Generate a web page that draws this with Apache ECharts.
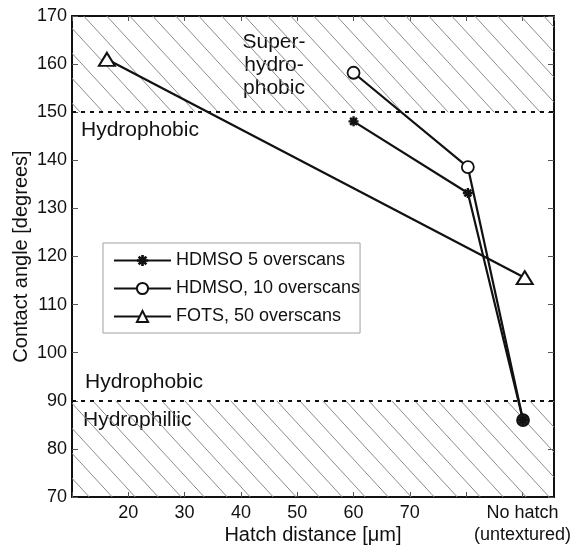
<!DOCTYPE html>
<html>
<head>
    <meta charset="utf-8" />
    <title>Contact angle</title>
    <script src="https://cdn.jsdelivr.net/npm/echarts@6/dist/echarts.min.js"></script>
    <style type="text/css">
        body { margin: 0; padding: 0; background: #fff; }
        #main { width: 587px; height: 548px; }
    </style>
</head>
<body>
    <div id="main"></div>
    <script type="text/javascript">
        // data
        var hdmso5X = [60, 80.3, 90.1];
        var hdmso5Y = [148.1, 133.2, 86];
        var hdmso10X = [60, 80.3, 90.1];
        var hdmso10Y = [158.2, 138.6, 86];
        var fotsX = [16.2, 90.4];
        var fotsY = [161, 115.6];
        var seriesNames = ['HDMSO 5 overscans', 'HDMSO, 10 overscans', 'FOTS, 50 overscans'];
        var xTickLabels = { 20: '20', 30: '30', 40: '40', 50: '50', 60: '60', 70: '70', 90: 'No hatch\n(untextured)' };
        var hatchBands = [[150, 170], [70, 90]];
        var thresholds = [150, 90];

        var FONT = 'Liberation Sans';

        // hatch tile, "\" lines
        function makeHatch() {
            var w = 23, h = 25;
            var c = document.createElement('canvas');
            c.width = w; c.height = h;
            var ctx = c.getContext('2d');
            ctx.strokeStyle = '#8c8c8c';
            ctx.lineWidth = 1;
            ctx.beginPath();
            ctx.moveTo(-2, -2 * h / w);
            ctx.lineTo(w + 2, h + 2 * h / w);
            ctx.stroke();
            return c;
        }

        function pairs(xs, ys) {
            return xs.map(function (x, i) { return [x, ys[i]]; });
        }

        var starPath = 'path://M-1.2,-5L1.2,-5L1.2,5L-1.2,5Z' +
            'M-5,-1.2L5,-1.2L5,1.2L-5,1.2Z' +
            'M-4.3,-2.6L-2.6,-4.3L4.3,2.6L2.6,4.3Z' +
            'M2.6,-4.3L4.3,-2.6L-2.6,4.3L-4.3,2.6Z';

        var hdmso10Data = pairs(hdmso10X, hdmso10Y).map(function (p, i) {
            if (i === hdmso10X.length - 1) {
                return { value: p, itemStyle: { color: '#333' } };
            }
            return p;
        });

        var lineStyle = { color: '#111', width: 2.2 };
        var hatchPattern = { image: makeHatch(), repeat: 'repeat' };

        var myChart = echarts.init(document.getElementById('main'), null, { renderer: 'canvas' });

        var option = {
            animation: false,
            backgroundColor: '#fff',
            grid: { left: 72, top: 16, width: 482, height: 481, containLabel: false, outerBoundsMode: 'none' },
            legend: {
                orient: 'vertical',
                left: 103,
                top: 243,
                padding: [8, 0, 7, 10],
                itemWidth: 57,
                itemHeight: 14,
                itemGap: 9,
                borderColor: '#a0a0a0',
                borderWidth: 1,
                backgroundColor: '#fff',
                data: seriesNames,
                textStyle: { fontFamily: FONT, fontSize: 18, color: '#111', lineHeight: 19 }
            },
            xAxis: [{
                type: 'value',
                min: 10,
                max: 95.6,
                interval: 10,
                position: 'bottom',
                name: 'Hatch distance [μm]',
                nameLocation: 'middle',
                nameGap: 28,
                nameMoveOverlap: false,
                nameTextStyle: { fontFamily: FONT, fontSize: 20, color: '#111', verticalAlign: 'top' },
                axisLine: { lineStyle: { color: '#111', width: 2 } },
                axisTick: { inside: true, length: 5, lineStyle: { color: '#555' } },
                splitLine: { show: false },
                axisLabel: {
                    margin: 5,
                    showMaxLabel: false,
                    fontFamily: FONT, fontSize: 18, color: '#111', lineHeight: 22,
                    formatter: function (v) { return xTickLabels[v] || ''; }
                }
            }, {
                type: 'value',
                min: 10,
                max: 95.6,
                interval: 10,
                position: 'top',
                axisLine: { lineStyle: { color: '#111', width: 2 } },
                axisTick: { inside: true, length: 5, lineStyle: { color: '#555' } },
                splitLine: { show: false },
                axisLabel: { show: false }
            }],
            yAxis: [{
                type: 'value',
                min: 70,
                max: 170,
                interval: 10,
                position: 'left',
                name: 'Contact angle [degrees]',
                nameLocation: 'middle',
                nameGap: 41,
                nameMoveOverlap: false,
                nameTextStyle: { fontFamily: FONT, fontSize: 20, color: '#111' },
                axisLine: { show: true, lineStyle: { color: '#111', width: 2 } },
                axisTick: { show: true, inside: true, length: 6, lineStyle: { color: '#555' } },
                splitLine: { show: false },
                axisLabel: { margin: 5, fontFamily: FONT, fontSize: 18, color: '#111' }
            }, {
                type: 'value',
                min: 70,
                max: 170,
                interval: 10,
                position: 'right',
                axisLine: { show: true, lineStyle: { color: '#111', width: 2 } },
                axisTick: { show: true, inside: true, length: 6, lineStyle: { color: '#555' } },
                splitLine: { show: false },
                axisLabel: { show: false }
            }],
            series: [{
                name: 'regions',
                type: 'line',
                data: [],
                silent: true,
                markArea: {
                    silent: true,
                    itemStyle: { color: hatchPattern },
                    data: hatchBands.map(function (b) { return [{ yAxis: b[0] }, { yAxis: b[1] }]; })
                },
                markLine: {
                    silent: true,
                    symbol: 'none',
                    label: { show: false },
                    lineStyle: { color: '#111', width: 2, type: [4, 5] },
                    data: thresholds.map(function (t) { return { yAxis: t }; })
                }
            }, {
                name: seriesNames[2],
                type: 'line',
                data: pairs(fotsX, fotsY),
                symbol: 'triangle',
                symbolSize: [16, 13],
                lineStyle: lineStyle,
                itemStyle: { color: '#fff', borderColor: '#111', borderWidth: 2 }
            }, {
                name: seriesNames[1],
                type: 'line',
                data: hdmso10Data,
                symbol: 'circle',
                symbolSize: 12,
                lineStyle: lineStyle,
                itemStyle: { color: '#fff', borderColor: '#111', borderWidth: 1.8 }
            }, {
                name: seriesNames[0],
                type: 'line',
                data: pairs(hdmso5X, hdmso5Y),
                symbol: starPath,
                symbolSize: 10,
                lineStyle: lineStyle,
                itemStyle: { color: '#111', borderWidth: 0 }
            }],
            graphic: [{
                type: 'text',
                style: {
                    text: 'Super-\nhydro-\nphobic', x: 274, y: 31, align: 'center', verticalAlign: 'top',
                    fontFamily: FONT, fontSize: 21, lineHeight: 23, fill: '#111'
                }
            }, {
                type: 'text',
                style: { text: 'Hydrophobic', x: 81, y: 130, verticalAlign: 'middle', fontFamily: FONT, fontSize: 21, fill: '#111' }
            }, {
                type: 'text',
                style: { text: 'Hydrophobic', x: 85, y: 382, verticalAlign: 'middle', fontFamily: FONT, fontSize: 21, fill: '#111' }
            }, {
                type: 'text',
                style: { text: 'Hydrophillic', x: 83, y: 420, verticalAlign: 'middle', fontFamily: FONT, fontSize: 21, fill: '#111' }
            }]
        };

        myChart.setOption(option);
    </script>
</body>
</html>
